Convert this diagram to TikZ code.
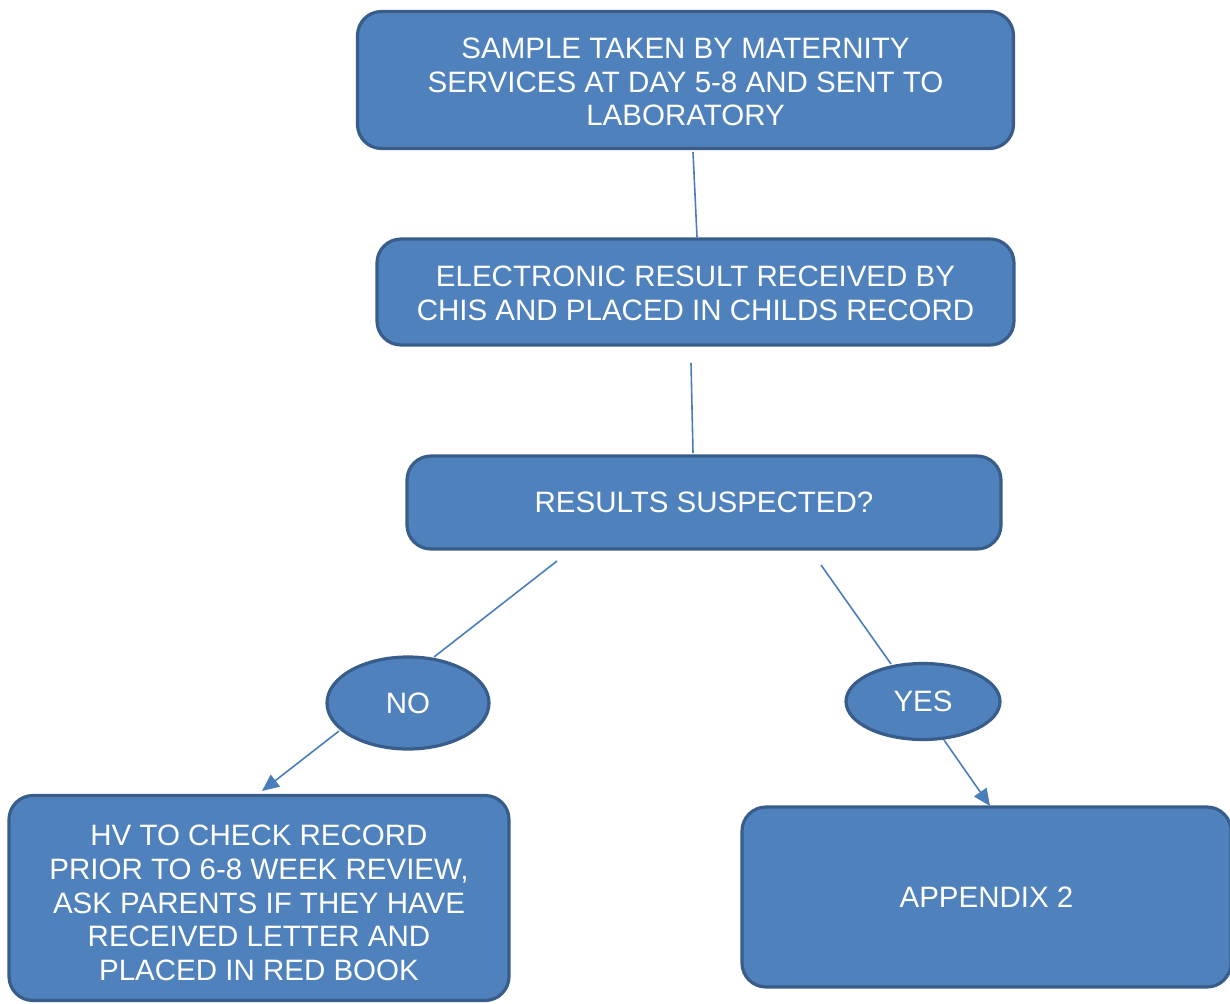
\documentclass[tikz,border=0pt]{standalone}
\usepackage{fontspec}
\setmainfont{Liberation Sans}
\usetikzlibrary{shapes.geometric,arrows.meta}
\definecolor{boxfill}{HTML}{4F81BD}
\definecolor{boxline}{HTML}{385D8A}
\definecolor{conn}{HTML}{4A7EBB}
\begin{document}
\begin{tikzpicture}[x=1pt,y=-1pt,
  box/.style={draw=boxline,fill=boxfill,line width=3.2pt,rounded corners=24pt,
    inner sep=0pt,text=white,align=center,font=\fontsize{29.5}{33.8}\selectfont},
  oval/.style={ellipse,draw=boxline,fill=boxfill,line width=3.2pt,inner sep=0pt,
    text=white,font=\fontsize{29.5}{33.8}\selectfont},
  link/.style={draw=conn,line width=1.6pt},
  arr/.style={link,-{Triangle[length=17pt,width=15pt]}}]
\useasboundingbox (0,0) rectangle (1230,1003);
\clip (0,0) rectangle (1230,1003);
\node[box,minimum width=656pt,minimum height=137pt] (b1) at (685.5,80)
  {\parbox{640pt}{\centering\vspace*{4pt}SAMPLE TAKEN BY MATERNITY\\SERVICES AT DAY 5-8 AND SENT TO\\LABORATORY}};
\node[box,minimum width=637pt,minimum height=106pt] (b2) at (695.5,292)
  {\parbox{620pt}{\centering\vspace*{2pt}ELECTRONIC RESULT RECEIVED BY\\CHIS AND PLACED IN CHILDS RECORD}};
\node[box,minimum width=594pt,minimum height=93pt] (b3) at (704,502.5)
  {RESULTS SUSPECTED?};
\node[oval,minimum width=162pt,minimum height=92pt] (no) at (408,703) {NO};
\node[oval,minimum width=154pt,minimum height=76pt] (yes) at (923,701.5) {YES};
\node[box,minimum width=500pt,minimum height=205pt] (hv) at (259,898)
  {\parbox{490pt}{\centering\vspace*{10pt}HV TO CHECK RECORD\\PRIOR TO 6-8 WEEK REVIEW,\\ASK PARENTS IF THEY HAVE\\RECEIVED LETTER AND\\PLACED IN RED BOOK}};
\node[box,minimum width=489pt,minimum height=180pt] (app) at (986.5,897)
  {APPENDIX 2};
\coordinate (c1a) at (693,152);
\coordinate (c1b) at (697,237);
\coordinate (c2a) at (691,363);
\coordinate (c2b) at (693,453);
\coordinate (c3a) at (557,561);
\coordinate (c3b) at (434,657);
\coordinate (c4a) at (339,731);
\coordinate (c4b) at (262,791);
\coordinate (c5a) at (821,565);
\coordinate (c5b) at (891,664);
\coordinate (c6a) at (944,740);
\coordinate (c6b) at (990,806);
\draw[link] (c1a) -- (c1b);
\draw[link] (c2a) -- (c2b);
\draw[link] (c3a) -- (c3b);
\draw[arr] (c4a) -- (c4b);
\draw[link] (c5a) -- (c5b);
\draw[arr] (c6a) -- (c6b);
\end{tikzpicture}
\end{document}
